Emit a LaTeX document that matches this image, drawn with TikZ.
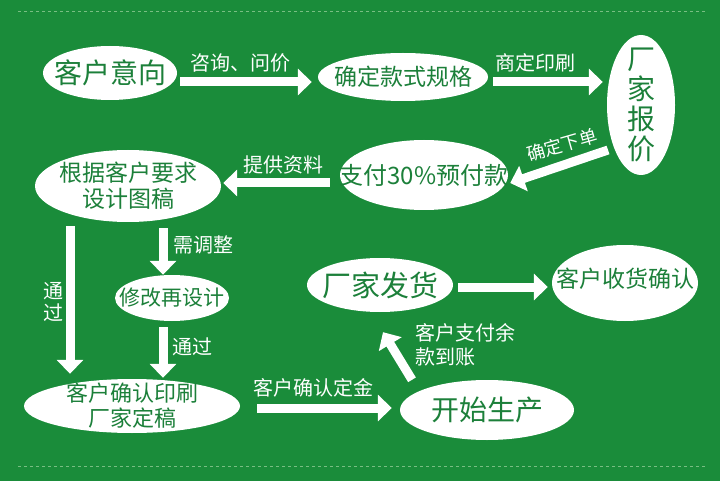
\documentclass[tikz,border=0pt]{standalone}
\usepackage{fontspec}
\newfontfamily\cjk{Noto Sans CJK SC}
\usetikzlibrary{shapes.geometric,arrows.meta,calc}
\definecolor{bg}{RGB}{26,140,58}
\definecolor{tg}{RGB}{28,128,58}
\definecolor{dl}{RGB}{120,190,130}
\tikzset{
  el/.style={ellipse, fill=white, draw=none, inner sep=0pt},
  et/.style={inner sep=0pt, text=tg, align=center},
  arr/.style={draw=white, line width=9pt, -{Triangle[length=14pt,width=26pt]}},
  lab/.style={text=white, font=\cjk\fontsize{20}{24}\selectfont, inner sep=0pt, align=center},
}
\begin{document}
\begin{tikzpicture}[x=1pt,y=-1pt]
\fill[bg] (0,0) rectangle (720,481);
\useasboundingbox (0,0) rectangle (720,481);
\draw[dl, dashed, line width=0.8pt] (18,11) -- (705,11);
\draw[dl, dashed, line width=0.8pt] (18,466) -- (705,466);

\node[el, minimum width=134pt, minimum height=54pt] (n1) at (110,73) {};
\node[et, font=\cjk\fontsize{28}{30}\selectfont] (n1t) at (n1) {客户意向};
\node[el, minimum width=170pt, minimum height=48pt] (n2) at (403,77) {};
\node[et, font=\cjk\fontsize{23}{26}\selectfont] (n2t) at (n2) {确定款式规格};
\node[el, minimum width=68pt, minimum height=140pt] (n3) at (641,105) {};
\node[et, font=\cjk\fontsize{28}{30}\selectfont] (n3t) at (n3) {厂\\家\\报\\价};
\node[el, minimum width=168pt, minimum height=70pt] (n4) at (424,175) {};
\node[et, font=\cjk\fontsize{24}{26}\selectfont] (n4t) at (n4) {支付30\%预付款};
\node[el, minimum width=186pt, minimum height=72pt] (n5) at (128,186) {};
\node[et, font=\cjk\fontsize{23}{26}\selectfont] (n5t) at (n5) {根据客户要求\\设计图稿};
\node[el, minimum width=114pt, minimum height=46pt] (n6) at (172,298) {};
\node[et, font=\cjk\fontsize{21}{24}\selectfont] (n6t) at (n6) {修改再设计};
\node[el, minimum width=216pt, minimum height=54pt] (n7) at (132,406) {};
\node[et, font=\cjk\fontsize{22}{25}\selectfont] (n7t) at (n7) {客户确认印刷\\厂家定稿};
\node[el, minimum width=174pt, minimum height=60pt] (n8) at (487,410) {};
\node[et, font=\cjk\fontsize{28}{30}\selectfont] (n8t) at (n8) {开始生产};
\node[el, minimum width=146pt, minimum height=54pt] (n9) at (380,285) {};
\node[et, font=\cjk\fontsize{29}{30}\selectfont] (n9t) at (n9) {厂家发货};
\node[el, minimum width=146pt, minimum height=76pt] (n10) at (625,283) {};
\node[et, font=\cjk\fontsize{23}{26}\selectfont] (n10t) at ($(n10)+(0,-4)$) {客户收货确认};

\draw[arr] ($(n1.east)+(3,9)$) -- ($(n2.west)+(-6,5)$);
\draw[arr] ($(n2.east)+(5,5)$) -- ($(n3.west)+(-4,-23)$);
\draw[arr] ($(n3)+(-33,45)$) -- ($(n4.east)+(2,8)$);
\draw[arr] ($(n4.west)+(-10,8)$) -- ($(n5.east)+(2,-3)$);
\draw[arr] ($(n5.south)+(-58,4)$) -- ($(n7.north)+(-62,-5)$);
\draw[arr] ($(n5.south)+(35,6)$) -- ($(n6.north)+(-9,0)$);
\draw[arr] ($(n6.south)+(-9,6)$) -- ($(n7.north)+(31,-1)$);
\draw[arr] ($(n7.east)+(17,2)$) -- ($(n8.west)+(-8,-2)$);
\draw[arr] ($(n8.north)+(-75,0)$) -- ($(n9.south)+(3,20)$);
\draw[arr] ($(n9.east)+(5,2)$) -- ($(n10.west)+(-4,4)$);

\node[lab] (l1) at (240,63) {咨询、问价};
\node[lab] (l2) at (535,63) {商定印刷};
\node[lab, rotate=16, font=\cjk\fontsize{18}{20}\selectfont] (l3) at (562,145) {确定下单};
\node[lab] (l4) at (283,165) {提供资料};
\node[lab, font=\cjk\fontsize{20}{22}\selectfont] (l5) at (53,302) {通\\过};
\node[lab] (l6) at (203,245) {需调整};
\node[lab] (l7) at (192,347) {通过};
\node[lab] (l8) at (313,388) {客户确认定金};
\node[lab, anchor=west, align=left] (l9) at (415,345) {客户支付余\\款到账};
\end{tikzpicture}
\end{document}
